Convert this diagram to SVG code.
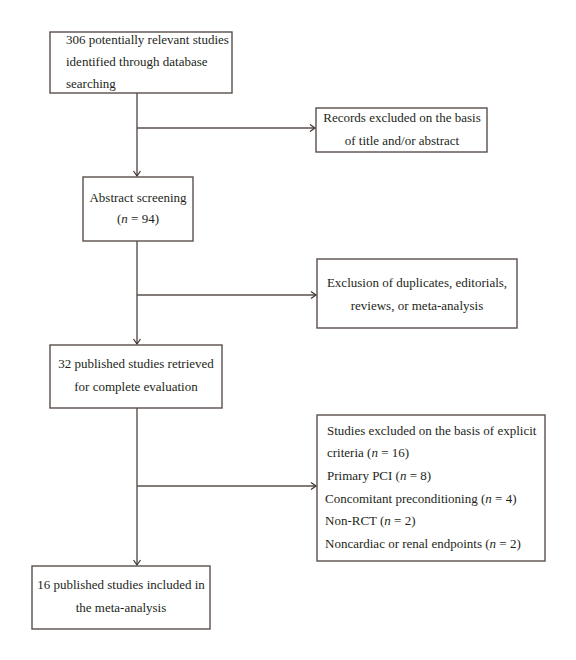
<svg xmlns="http://www.w3.org/2000/svg" width="576" height="660" viewBox="0 0 576 660">
<defs>
<style>
.box{fill:#fff;stroke:#5a4f4b;stroke-width:1.4}
.t{font-family:"Liberation Serif","Times New Roman",serif;font-size:13px;fill:#231f20}
.c{text-anchor:middle}
.i{font-style:italic}
.ln{fill:none;stroke:#5a4f4b;stroke-width:1.4}
</style>
<marker id="ah" markerUnits="userSpaceOnUse" markerWidth="10" markerHeight="10" refX="6" refY="4" orient="auto">
<path d="M1,0.5 L6,4 L1,7.5" fill="none" stroke="#3a3330" stroke-width="1.2"/>
</marker>
</defs>
<rect width="576" height="660" fill="#fff"/>
<g id="connectors">
<line class="ln" x1="137" y1="93" x2="137" y2="176" marker-end="url(#ah)"/>
<line class="ln" x1="137" y1="128" x2="315" y2="128" marker-end="url(#ah)"/>
<line class="ln" x1="137" y1="241" x2="137" y2="344" marker-end="url(#ah)"/>
<line class="ln" x1="137" y1="295" x2="316" y2="295" marker-end="url(#ah)"/>
<line class="ln" x1="137" y1="408" x2="137" y2="565" marker-end="url(#ah)"/>
<line class="ln" x1="137" y1="486" x2="316" y2="486" marker-end="url(#ah)"/>
</g>
<g id="n1">
<rect class="box" x="50" y="32" width="182" height="61"/>
<text class="t" x="66" y="44">306 potentially relevant studies</text>
<text class="t" x="66" y="66">identified through database</text>
<text class="t" x="66" y="88">searching</text>
</g>
<g id="n2">
<rect class="box" x="316" y="108" width="171" height="44"/>
<text class="t c" x="402" y="122">Records excluded on the basis</text>
<text class="t c" x="402" y="145">of title and/or abstract</text>
</g>
<g id="n3">
<rect class="box" x="83" y="177" width="110" height="64"/>
<text class="t c" x="138" y="202">Abstract screening</text>
<text class="t c" x="138" y="223">(<tspan class="i">n</tspan> = 94)</text>
</g>
<g id="n4">
<rect class="box" x="317" y="259" width="200" height="69"/>
<text class="t c" x="417" y="287">Exclusion of duplicates, editorials,</text>
<text class="t c" x="417" y="310">reviews, or meta-analysis</text>
</g>
<g id="n5">
<rect class="box" x="50" y="345" width="172" height="63"/>
<text class="t c" x="136" y="368">32 published studies retrieved</text>
<text class="t c" x="136" y="391">for complete evaluation</text>
</g>
<g id="n6">
<rect class="box" x="317" y="415" width="228" height="146"/>
<text class="t" x="327" y="435">Studies excluded on the basis of explicit</text>
<text class="t" x="327" y="457">criteria (<tspan class="i">n</tspan> = 16)</text>
<text class="t" x="327" y="480">Primary PCI (<tspan class="i">n</tspan> = 8)</text>
<text class="t" x="325" y="503">Concomitant preconditioning (<tspan class="i">n</tspan> = 4)</text>
<text class="t" x="325" y="525">Non-RCT (<tspan class="i">n</tspan> = 2)</text>
<text class="t" x="325" y="548">Noncardiac or renal endpoints (<tspan class="i">n</tspan> = 2)</text>
</g>
<g id="n7">
<rect class="box" x="32" y="566" width="178" height="63"/>
<text class="t c" x="121" y="589">16 published studies included in</text>
<text class="t c" x="121" y="612">the meta-analysis</text>
</g>
</svg>
